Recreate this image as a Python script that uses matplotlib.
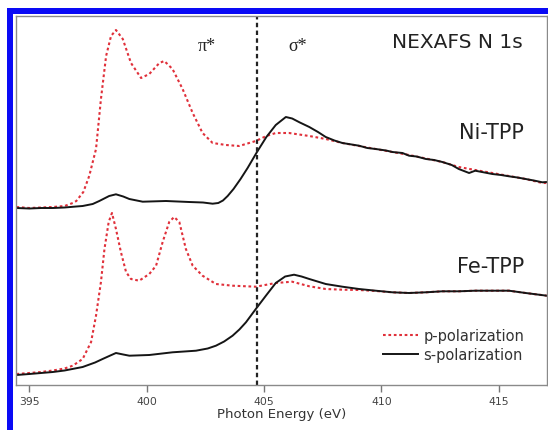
import matplotlib
matplotlib.use("Agg")
import matplotlib.pyplot as plt
from matplotlib.patches import Rectangle

# ---- data (photon energy in eV, intensity in arbitrary units) ----
ni_p_e = [394.45, 395.0, 395.5, 396.0, 396.5, 396.85, 397.0, 397.3, 397.55, 397.84, 398.05, 398.27,
          398.48, 398.69, 398.98, 399.33, 399.76, 400.11, 400.54, 400.75, 401.1, 401.53, 401.96,
          402.38, 402.81, 403.38, 403.94, 404.65, 405.1, 405.5, 406.07, 406.93, 407.63, 408.34,
          409.05, 409.76, 410.47, 411.18, 411.9, 412.6, 413.3, 414.0, 414.73, 415.44, 416.15,
          416.86, 417.05]
ni_p_i = [1.78, 1.77, 1.775, 1.78, 1.79, 1.82, 1.84, 1.93, 2.09, 2.36, 2.86, 3.29,
          3.49, 3.55, 3.46, 3.22, 3.07, 3.11, 3.22, 3.24, 3.16, 2.96, 2.72,
          2.52, 2.42, 2.40, 2.39, 2.44, 2.49, 2.52, 2.52, 2.49, 2.46, 2.42,
          2.39, 2.36, 2.33, 2.30, 2.265, 2.23, 2.18, 2.15, 2.12, 2.09, 2.06,
          2.02, 2.02]

ni_s_e = [394.45, 395.0, 395.5, 396.0, 396.5, 397.0, 397.27, 397.7, 397.98, 398.4, 398.69, 399.0,
          399.26, 399.83, 400.82, 401.81, 402.4, 402.81, 403.05, 403.25, 403.45, 403.7, 404.0,
          404.3, 404.7, 405.1, 405.5, 405.93, 406.2, 406.51, 406.93, 407.3, 407.63, 408.0,
          408.34, 409.05, 409.4, 409.76, 410.2, 410.47, 410.9, 411.18, 411.5, 411.9, 412.25,
          412.6, 413.0, 413.3, 413.74, 414.0, 414.4, 414.73, 415.1, 415.44, 415.8, 416.15,
          416.5, 416.86, 417.05]
ni_s_i = [1.77, 1.765, 1.77, 1.77, 1.775, 1.785, 1.79, 1.81, 1.84, 1.89, 1.907, 1.885,
          1.86, 1.833, 1.84, 1.83, 1.825, 1.813, 1.82, 1.845, 1.89, 1.96, 2.06,
          2.17, 2.33, 2.48, 2.60, 2.68, 2.665, 2.627, 2.58, 2.53, 2.48, 2.445,
          2.42, 2.393, 2.37, 2.36, 2.345, 2.33, 2.32, 2.293, 2.285, 2.26, 2.25,
          2.23, 2.20, 2.16, 2.12, 2.143, 2.125, 2.11, 2.10, 2.087, 2.075, 2.06,
          2.045, 2.027, 2.03]

fe_p_e = [394.45, 395.0, 395.5, 396.0, 396.5, 396.85, 397.27, 397.63, 397.84, 398.05, 398.2, 398.38,
          398.52, 398.69, 398.9, 399.12, 399.33, 399.68, 400.11, 400.4, 400.68, 400.96, 401.17,
          401.39, 401.67, 401.96, 402.38, 402.95, 403.66, 404.65, 405.5, 406.2, 406.93, 407.63,
          408.34, 409.05, 409.76, 410.47, 411.18, 411.9, 412.6, 413.3, 414.0, 414.73, 415.44,
          416.15, 417.05]
fe_p_i = [0.11, 0.12, 0.13, 0.145, 0.165, 0.193, 0.26, 0.43, 0.693, 1.03, 1.36, 1.63,
          1.72, 1.56, 1.33, 1.13, 1.06, 1.043, 1.11, 1.193, 1.43, 1.63, 1.68,
          1.63, 1.36, 1.193, 1.093, 1.01, 0.993, 0.983, 1.02, 1.033, 0.987, 0.96,
          0.953, 0.95, 0.94, 0.927, 0.92, 0.927, 0.937, 0.937, 0.943, 0.943, 0.943,
          0.92, 0.893]

fe_s_e = [394.45, 395.0, 395.5, 396.0, 396.5, 397.27, 397.8, 398.12, 398.45, 398.69, 399.0, 399.26,
          400.11, 401.1, 402.1, 402.6, 402.95, 403.3, 403.66, 403.95, 404.23, 404.65, 405.08,
          405.5, 405.9, 406.28, 406.6, 406.93, 407.63, 408.34, 409.05, 409.76, 410.47, 411.18,
          411.9, 412.6, 413.3, 414.0, 414.73, 415.44, 416.15, 417.05]
fe_s_i = [0.10, 0.11, 0.12, 0.13, 0.145, 0.18, 0.225, 0.26, 0.295, 0.32, 0.305, 0.293,
          0.30, 0.327, 0.343, 0.365, 0.393, 0.435, 0.493, 0.555, 0.627, 0.76, 0.893,
          1.02, 1.085, 1.103, 1.085, 1.06, 1.01, 0.983, 0.96, 0.943, 0.927, 0.92,
          0.927, 0.937, 0.937, 0.943, 0.943, 0.943, 0.92, 0.893]

x_ticks = [395, 400, 405, 410, 415]
divider_energy = 404.7
sample_labels = ["Ni-TPP", "Fe-TPP"]
legend_labels = ["p-polarization", "s-polarization"]

# ---- figure ----
W, H = 548, 431
fig = plt.figure(figsize=(W / 100, H / 100), dpi=100)
fig.patch.set_facecolor("white")

# blue frame of the original figure
blue = "#0a0af5"
fig.add_artist(Rectangle((7 / W, 0), 6 / W, 1 - 9 / H, transform=fig.transFigure,
                         facecolor=blue, edgecolor="none"))
fig.add_artist(Rectangle((7 / W, 1 - 15 / H), 1 - 7 / W, 6 / H, transform=fig.transFigure,
                         facecolor=blue, edgecolor="none"))

ax = fig.add_axes([16 / W, 1 - 386 / H, 531 / W, 369 / H])
ax.set_xlim(394.43, 417.06)
ax.set_ylim(0, 3.69)

red = "#e0303a"
ax.plot(ni_p_e, ni_p_i, color=red, lw=1.5, ls=(0, (1.3, 1.3)), label=legend_labels[0])
ax.plot(ni_s_e, ni_s_i, color="#151515", lw=1.4, label=legend_labels[1])
ax.plot(fe_p_e, fe_p_i, color=red, lw=1.5, ls=(0, (1.3, 1.3)))
ax.plot(fe_s_e, fe_s_i, color="#151515", lw=1.4)

ax.axvline(divider_energy, color="#222222", lw=1.6, ls=(0, (2.0, 1.5)))

for sp in ax.spines.values():
    sp.set_color("#8a8a8a")
    sp.set_linewidth(1.0)

ax.set_yticks([])
ax.set_xticks(x_ticks)
ax.tick_params(axis="x", direction="out", length=5, width=1, color="#777777",
               labelsize=7.8, labelcolor="#444444", pad=3)
ax.set_xlabel("Photon Energy (eV)", fontsize=9.5, color="#333333", labelpad=1)

ax.text(0.955, 0.93, "NEXAFS N 1s", transform=ax.transAxes, ha="right", va="center",
        fontsize=14.5, color="#222222")
ax.text(0.957, 0.686, sample_labels[0], transform=ax.transAxes, ha="right", va="center",
        fontsize=15, color="#222222")
ax.text(0.957, 0.322, sample_labels[1], transform=ax.transAxes, ha="right", va="center",
        fontsize=15, color="#222222")
ax.text(0.36, 0.919, "π*", transform=ax.transAxes, ha="center", va="center",
        fontsize=13, family="Liberation Serif", color="#222222")
ax.text(0.531, 0.919, "σ*", transform=ax.transAxes, ha="center", va="center",
        fontsize=13, family="Liberation Serif", color="#222222")

leg = ax.legend(loc="center left", bbox_to_anchor=(0.692, 0.108), frameon=False,
                fontsize=10.5, handlelength=2.4, handletextpad=0.35, labelspacing=0.3,
                borderpad=0, borderaxespad=0)
for t in leg.get_texts():
    t.set_color("#333333")

fig.savefig("out.png", dpi=100, facecolor="white")
